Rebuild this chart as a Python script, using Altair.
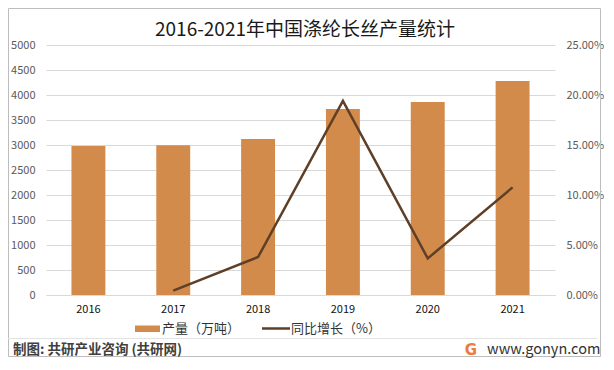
import altair as alt
import pandas as pd

years = ["2016", "2017", "2018", "2019", "2020", "2021"]
output = [2980, 2995, 3120, 3720, 3860, 4280]
growth = [None, 0.0043, 0.038, 0.194, 0.0366, 0.1076]

title_text = "2016-2021年中国涤纶长丝产量统计"
legend_bar = "产量（万吨）"
legend_line = "同比增长（%）"
source_text = "制图: 共研产业咨询 (共研网)"
site_text = "www.gonyn.com"

df = pd.DataFrame({"year": years, "output": output, "growth": growth})

FONT = "Noto Sans CJK SC"
BAR = "#D38B4C"
LINE = "#5E3F27"
EDGE = "#bdbdbd"

# plot area origin is at page (46, 45); helpers convert page px to plot px
def px(v):
    return v - 46

def py(v):
    return v - 45

x_enc = alt.X("year:N", sort=years,
              scale=alt.Scale(paddingInner=0.6, paddingOuter=0.3),
              axis=alt.Axis(title=None, labelAngle=0, ticks=False, labelPadding=8,
                            labelFontSize=11, labelColor="#111111", labelFont=FONT,
                            domainColor="#d9d9d9", grid=False))

bars = alt.Chart(df).mark_bar(color=BAR).encode(
    x=x_enc,
    y=alt.Y("output:Q", scale=alt.Scale(domain=[0, 5000]),
            axis=alt.Axis(title=None, values=list(range(0, 5001, 500)), format="d",
                          ticks=False, domain=False, labelPadding=11, labelFontSize=11,
                          labelColor="#595959", labelFont=FONT,
                          gridColor="#d9d9d9", grid=True)),
)

line = alt.Chart(df).transform_filter("datum.growth != null").mark_line(
    color=LINE, strokeWidth=2.5).encode(
    x=alt.X("year:N", sort=years),
    y=alt.Y("growth:Q", scale=alt.Scale(domain=[0, 0.25]),
            axis=alt.Axis(title=None, orient="right", format=".2%",
                          values=[0, 0.05, 0.10, 0.15, 0.20, 0.25], ticks=False,
                          domain=False, labelPadding=11, labelFontSize=11,
                          labelColor="#595959", labelFont=FONT, grid=False)),
)

one = pd.DataFrame({"k": [0]})
base = alt.Chart(one)

title = base.mark_text(text=title_text, font=FONT, fontSize=19, color="#1a1a1a",
                       align="center", baseline="middle").encode(
    x=alt.value(px(305)), y=alt.value(py(30)))

leg_bar_sw = base.mark_rect(color=BAR).encode(
    x=alt.value(px(135)), x2=alt.value(px(160)),
    y=alt.value(py(325.5)), y2=alt.value(py(332)))
leg_bar_tx = base.mark_text(text=legend_bar, font=FONT, fontSize=13, color="#333333",
                            align="left", baseline="middle").encode(
    x=alt.value(px(162)), y=alt.value(py(328.5)))
leg_line_sw = base.mark_rule(color=LINE, strokeWidth=2.5).encode(
    x=alt.value(px(262)), x2=alt.value(px(290)), y=alt.value(py(328.5)))
leg_line_tx = base.mark_text(text=legend_line, font=FONT, fontSize=13, color="#333333",
                             align="left", baseline="middle").encode(
    x=alt.value(px(291)), y=alt.value(py(328.5)))

sep = base.mark_rule(color="#e3e3e3", strokeWidth=1).encode(
    x=alt.value(px(8)), x2=alt.value(px(597)), y=alt.value(py(338.5)))

src = base.mark_text(text=source_text, font=FONT, fontSize=13.5, fontWeight="bold",
                     color="#404040", align="left", baseline="middle").encode(
    x=alt.value(px(13)), y=alt.value(py(350)))

logo = base.mark_text(text="G", font="DejaVu Sans", fontSize=15, fontWeight="bold",
                      color="#F07A3C", align="center", baseline="middle").encode(
    x=alt.value(px(471)), y=alt.value(py(350)))

site = base.mark_text(text=site_text, font=FONT, fontSize=14.5, color="#333333",
                      align="left", baseline="middle").encode(
    x=alt.value(px(487)), y=alt.value(py(350)))

L, R, T, B = 8.5, 600.5, 8.5, 356.5
edge_top = base.mark_rule(color=EDGE, strokeWidth=1).encode(
    x=alt.value(px(L)), x2=alt.value(px(R)), y=alt.value(py(T)))
edge_bot = base.mark_rule(color=EDGE, strokeWidth=1).encode(
    x=alt.value(px(L)), x2=alt.value(px(R)), y=alt.value(py(B)))
edge_left = base.mark_rule(color=EDGE, strokeWidth=1).encode(
    x=alt.value(px(L)), y=alt.value(py(T)), y2=alt.value(py(B)))
edge_right = base.mark_rule(color=EDGE, strokeWidth=1).encode(
    x=alt.value(px(R)), y=alt.value(py(T)), y2=alt.value(py(B)))

main = alt.layer(bars, line).resolve_scale(y="independent")

chart = alt.layer(edge_top, edge_bot, edge_left, edge_right, main, title,
                  leg_bar_sw, leg_bar_tx, leg_line_sw, leg_line_tx, sep, src,
                  logo, site).properties(
    width=509, height=250,
    autosize=alt.AutoSizeParams(type="none"),
    padding={"left": 38, "top": 37, "right": 51, "bottom": 67},
    background="white",
).configure_view(stroke=None)

chart.save("out.html", embed_options={"renderer": "svg", "actions": False})
